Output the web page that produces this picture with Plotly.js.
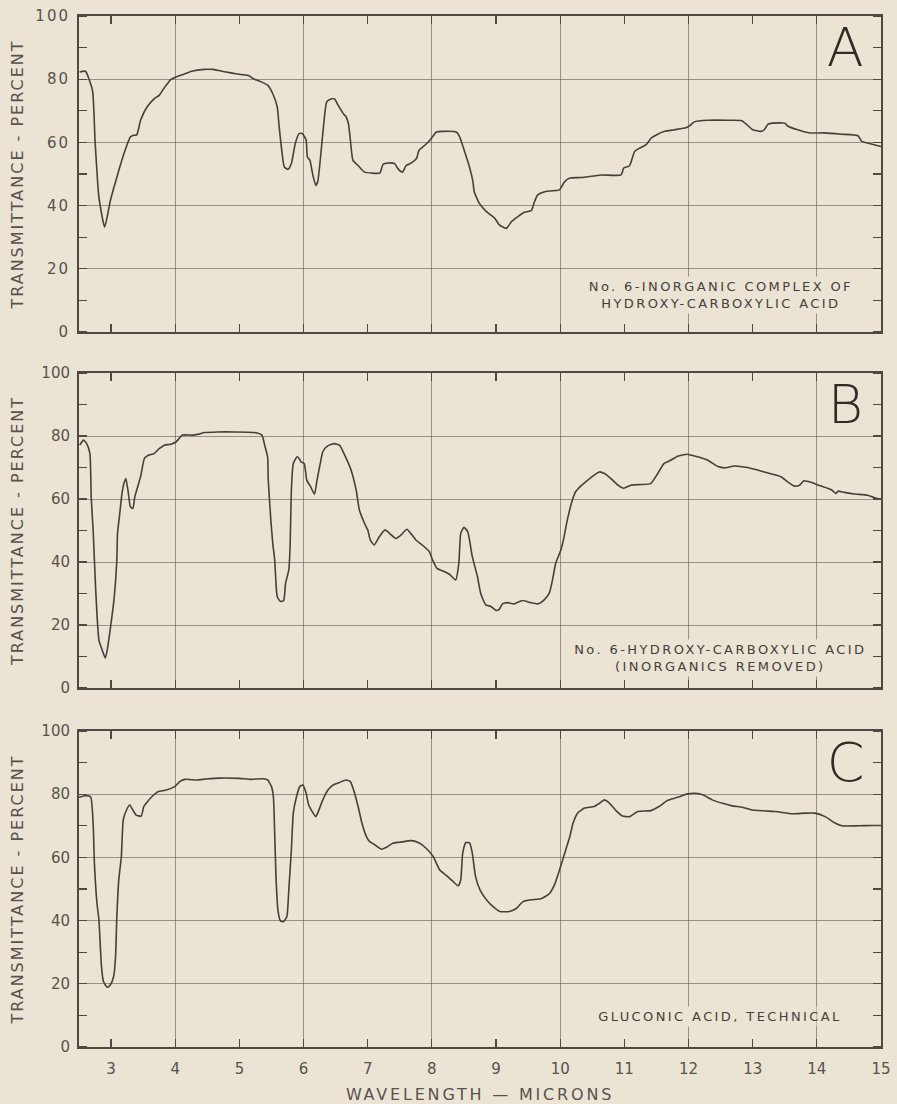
<!DOCTYPE html>
<html><head><meta charset="utf-8">
<script src="https://cdn.plot.ly/plotly-3.0.1.min.js"></script>
<style>
body{margin:0;background:#ebe4d4;}
#chart text.ytitle, #chart text.y2title, #chart text.y3title{letter-spacing:2px;}
#chart text.x3title{letter-spacing:2.8px;}
#chart .xtick text, #chart .ytick text{letter-spacing:2px;}
#chart .annotation-text{letter-spacing:2.4px;}
</style></head>
<body><div id="chart" style="width:897px;height:1104px"></div>
<script>
// ---- data ----
const wavelengthA=[2.51,2.60,2.71,2.75,2.81,2.90,2.99,3.09,3.20,3.30,3.34,3.40,3.46,3.56,3.67,3.75,3.83,3.93,4.01,4.11,4.27,4.45,4.58,4.71,4.87,5.02,5.15,5.21,5.31,5.44,5.52,5.59,5.62,5.66,5.70,5.76,5.81,5.87,5.93,5.98,6.04,6.06,6.10,6.14,6.19,6.22,6.27,6.31,6.36,6.41,6.48,6.54,6.62,6.66,6.70,6.73,6.77,6.85,6.95,7.06,7.19,7.24,7.32,7.42,7.47,7.54,7.60,7.68,7.76,7.80,7.89,7.97,8.07,8.18,8.38,8.43,8.51,8.59,8.64,8.66,8.74,8.85,8.98,9.05,9.16,9.24,9.34,9.44,9.55,9.60,9.65,9.76,9.94,9.99,10.07,10.15,10.33,10.64,10.95,10.99,11.08,11.16,11.24,11.34,11.42,11.52,11.63,11.78,11.96,12.02,12.09,12.30,12.61,12.82,12.90,13.00,13.13,13.18,13.24,13.31,13.50,13.55,13.70,13.89,14.12,14.38,14.64,14.70,14.79,15.00];
const transmittanceA=[82.3,82.5,76.5,60.6,42.7,33.2,41.7,49.0,56.4,61.7,62.2,62.4,67.0,71.2,73.8,74.9,77.3,79.9,80.7,81.4,82.6,83.1,83.1,82.6,82.0,81.5,81.1,80.2,79.4,78.1,75.4,71.2,64.9,57.5,52.2,51.5,53.3,59.6,62.8,62.8,60.7,55.4,54.3,50.1,46.4,47.5,56.4,64.9,72.8,73.6,73.8,71.7,69.1,68.2,65.9,60.7,54.3,52.7,50.6,50.3,50.3,53.1,53.5,53.3,51.7,50.6,52.7,53.5,54.9,57.5,59.1,60.7,63.3,63.5,63.3,61.9,57.1,51.9,47.6,44.4,40.7,38.1,36.0,33.9,32.8,34.9,36.5,37.9,38.4,41.3,43.4,44.4,44.8,45.0,47.6,48.7,48.9,49.7,49.7,51.9,52.6,57.1,58.2,59.3,61.4,62.6,63.5,64.0,64.6,65.3,66.5,67.0,67.0,66.9,65.8,64.0,63.5,64.0,65.8,66.1,66.1,65.1,64.0,63.0,63.0,62.6,62.1,60.3,59.8,58.7];

const wavelengthB=[2.51,2.57,2.62,2.67,2.69,2.72,2.76,2.81,2.86,2.91,2.94,3.00,3.05,3.09,3.10,3.13,3.17,3.20,3.23,3.27,3.30,3.34,3.37,3.46,3.52,3.58,3.67,3.75,3.83,3.93,4.01,4.06,4.11,4.27,4.37,4.45,4.66,4.92,5.23,5.35,5.40,5.44,5.45,5.49,5.52,5.55,5.57,5.59,5.64,5.69,5.72,5.77,5.79,5.81,5.84,5.90,5.93,5.96,6.01,6.05,6.11,6.17,6.21,6.26,6.30,6.37,6.48,6.56,6.63,6.74,6.82,6.87,6.95,7.00,7.04,7.10,7.18,7.27,7.34,7.44,7.52,7.61,7.67,7.75,7.85,7.96,8.01,8.08,8.19,8.27,8.37,8.42,8.45,8.50,8.56,8.63,8.71,8.76,8.84,8.92,9.00,9.05,9.10,9.18,9.28,9.41,9.54,9.65,9.75,9.83,9.88,9.93,10.01,10.06,10.11,10.19,10.24,10.32,10.43,10.53,10.61,10.69,10.79,10.90,10.99,11.10,11.26,11.41,11.52,11.62,11.72,11.83,11.98,12.14,12.30,12.45,12.56,12.71,12.92,13.18,13.44,13.54,13.65,13.73,13.80,13.91,14.04,14.22,14.30,14.33,14.43,14.59,14.79,14.90,15.00];
const transmittanceB=[77.1,78.7,77.6,74.4,60.7,50.2,31.2,15.3,12.1,9.5,12.1,20.6,29.0,40.7,49.1,54.4,61.8,64.9,66.5,61.8,57.6,57.0,60.7,67.1,72.9,73.9,74.4,76.0,77.1,77.4,78.1,79.2,80.3,80.3,80.6,81.1,81.3,81.3,81.1,80.3,76.6,73.4,66.0,53.3,45.9,40.7,33.3,29.0,27.5,27.8,33.3,37.5,44.9,62.8,71.3,73.4,72.9,71.8,71.3,66.0,63.9,61.5,66.0,71.3,75.0,76.8,77.6,77.1,74.4,69.2,62.8,56.5,52.3,50.2,47.0,45.4,48.0,50.2,49.1,47.5,48.6,50.4,49.1,47.0,45.4,43.3,40.7,38.0,37.0,36.2,34.3,39.6,49.1,51.0,49.6,41.7,35.4,30.1,26.4,25.9,24.6,25.0,26.7,27.1,26.7,27.8,27.1,26.7,28.0,30.1,34.3,39.6,43.8,48.0,53.3,59.7,62.3,64.1,66.0,67.6,68.6,68.1,66.5,64.4,63.4,64.4,64.6,64.9,68.1,71.3,72.3,73.6,74.2,73.4,72.3,70.4,69.9,70.5,70.0,68.6,67.1,65.5,64.1,64.4,65.8,65.3,64.3,63.0,61.8,62.5,62.1,61.6,61.2,60.4,59.9];

const wavelengthC=[2.50,2.59,2.68,2.72,2.74,2.78,2.81,2.85,2.88,2.94,2.99,3.04,3.07,3.09,3.12,3.16,3.19,3.24,3.29,3.34,3.39,3.47,3.51,3.57,3.65,3.73,3.86,3.99,4.07,4.15,4.33,4.48,4.69,5.00,5.18,5.37,5.44,5.50,5.53,5.55,5.57,5.60,5.64,5.69,5.74,5.77,5.81,5.84,5.89,5.94,5.99,6.04,6.08,6.15,6.19,6.22,6.30,6.38,6.46,6.56,6.66,6.73,6.78,6.85,6.91,6.98,7.03,7.11,7.21,7.31,7.39,7.50,7.68,7.81,7.91,8.02,8.12,8.23,8.33,8.41,8.45,8.48,8.53,8.59,8.63,8.68,8.75,8.85,8.95,9.06,9.21,9.32,9.42,9.55,9.70,9.83,9.91,9.99,10.07,10.15,10.20,10.27,10.38,10.53,10.61,10.69,10.77,10.87,10.97,11.08,11.21,11.41,11.54,11.67,11.83,11.98,12.11,12.22,12.37,12.53,12.68,12.84,12.99,13.20,13.36,13.62,13.82,13.97,14.13,14.29,14.39,14.65,14.86,15.00];
const transmittanceC=[79.0,79.5,79.2,70.8,58.2,45.5,40.3,25.5,20.8,18.9,19.7,22.3,28.7,41.3,52.9,60.3,71.9,75.0,76.6,75.0,73.4,73.1,76.1,77.7,79.5,80.8,81.3,82.4,84.0,84.7,84.5,84.8,85.1,85.0,84.7,84.9,84.5,82.4,79.2,67.6,54.0,43.4,39.9,39.7,41.3,49.7,62.4,74.0,79.2,82.4,82.9,80.3,76.6,74.0,72.9,74.0,78.2,81.3,82.9,83.7,84.5,84.0,81.3,76.1,70.8,66.6,65.0,64.0,62.6,63.4,64.5,64.8,65.3,64.5,62.9,60.3,56.1,54.2,52.4,51.0,52.9,61.3,64.7,64.5,61.3,54.0,49.7,46.6,44.5,42.9,42.9,43.9,46.0,46.6,46.9,48.5,51.3,56.1,61.3,66.6,70.8,74.0,75.6,76.1,77.1,78.2,77.1,74.8,73.1,72.9,74.5,74.8,76.1,78.0,79.0,80.1,80.3,79.8,78.2,77.1,76.3,75.9,75.0,74.7,74.5,73.8,74.0,74.0,72.9,70.8,70.0,70.0,70.1,70.1];

const xTickValues=[3,4,5,6,7,8,9,10,11,12,13,14,15];
const xTickLabels=['3','4','5','6','7','8','9','10','11','12','13','14','15'];
const xGridValues=[4,6,8,10,12,14];
const yTickValues=[0,20,40,60,80,100];
const yTickLabels=['0','20','40','60','80','100'];
const panelLetters=['A','B','C'];
const panelCaptions=['No. 6-INORGANIC COMPLEX OF<br>HYDROXY-CARBOXYLIC ACID','No. 6-HYDROXY-CARBOXYLIC ACID<br>(INORGANICS REMOVED)','GLUCONIC ACID, TECHNICAL'];
const yTitle='TRANSMITTANCE - PERCENT';
const xTitle='WAVELENGTH — MICRONS';

// ---- styling ----
const BG='#ebe4d4', INK='#45403b', FRAME='#4f4944', GRID='rgba(95,88,82,0.6)', TXT='#57524d';
const FONT='DejaVu Sans, sans-serif';
const domains=[[0.6935,1],[0.3482,0.6537],[0,0.3065]];
const series=[[wavelengthA,transmittanceA],[wavelengthB,transmittanceB],[wavelengthC,transmittanceC]];

const traces=[];
series.forEach((s,i)=>{
  const n=i===0?'':String(i+1);
  // carrier for the grid-only overlay axis (no visible points)
  traces.push({x:xGridValues, y:xGridValues.map(()=>null), type:'scatter', mode:'lines',
    xaxis:'x'+(i+4), yaxis:'y'+n, showlegend:false, hoverinfo:'skip'});
  traces.push({
    x:s[0], y:s[1], type:'scatter', mode:'lines',
    xaxis:'x'+n, yaxis:'y'+n,
    line:{color:INK,width:1.6,shape:'spline',smoothing:0.5}, showlegend:false, hoverinfo:'skip'
  });
});

const layout={
  width:897, height:1104,
  margin:{l:79,r:16,t:16,b:57},
  paper_bgcolor:BG, plot_bgcolor:BG,
  font:{family:FONT,color:TXT},
  showlegend:false, annotations:[]
};
for(let i=0;i<3;i++){
  const n=i===0?'':String(i+1);
  const ov=String(i+4);
  layout['xaxis'+n]={
    domain:[0,1], anchor:'y'+n, range:[2.5,15],
    tickmode:'array', tickvals:xTickValues, ticktext:xTickLabels,
    showticklabels:i===2, ticks:'inside', ticklen:8, tickwidth:1.2, tickcolor:FRAME,
    ticklabelstandoff:7,
    tickfont:{size:15,color:TXT,family:FONT},
    showgrid:false, zeroline:false,
    showline:true, linecolor:FRAME, linewidth:2, mirror:'ticks',
    fixedrange:true
  };
  if(i===2){ layout['xaxis'+n].title={text:xTitle,font:{size:16,color:TXT,family:FONT},standoff:12}; }
  layout['xaxis'+ov]={
    overlaying:'x'+n, anchor:'y'+n, range:[2.5,15],
    tickmode:'array', tickvals:xGridValues,
    showgrid:true, gridcolor:GRID, gridwidth:1,
    showticklabels:false, ticks:'', showline:false, zeroline:false, fixedrange:true
  };
  layout['yaxis'+n]={
    domain:domains[i], anchor:'x'+n, range:[0,100],
    tickmode:'array', tickvals:yTickValues, ticktext:yTickLabels,
    ticks:'', showgrid:true, gridcolor:GRID, gridwidth:1, zeroline:false,
    minor:{dtick:10, tick0:0, ticks:'inside', ticklen:8, tickwidth:1.2, tickcolor:FRAME, showgrid:false},
    showline:true, linecolor:FRAME, linewidth:2, mirror:'ticks',
    tickfont:{size:15,color:TXT,family:FONT}, ticklabelstandoff:4,
    title:{text:yTitle,font:{size:16,color:TXT,family:FONT},standoff:14},
    fixedrange:true
  };
  layout.annotations.push({
    xref:'x'+n+' domain', yref:'y'+n+' domain', x:0.957, y:0.90,
    text:panelLetters[i], showarrow:false, xanchor:'center', yanchor:'middle',
    font:{size:54,color:'#2f2b27',family:FONT,weight:200}
  });
  layout.annotations.push({
    xref:'x'+n+' domain', yref:'y'+n+' domain', x:0.80, y:[0.117,0.094,0.098][i],
    text:panelCaptions[i], showarrow:false, xanchor:'center', yanchor:'middle',
    font:{size:13,color:'#45403b',family:FONT}, bgcolor:BG, borderpad:2
  });
}
Plotly.newPlot('chart',traces,layout,{displayModeBar:false,staticPlot:true});
</script></body></html>
